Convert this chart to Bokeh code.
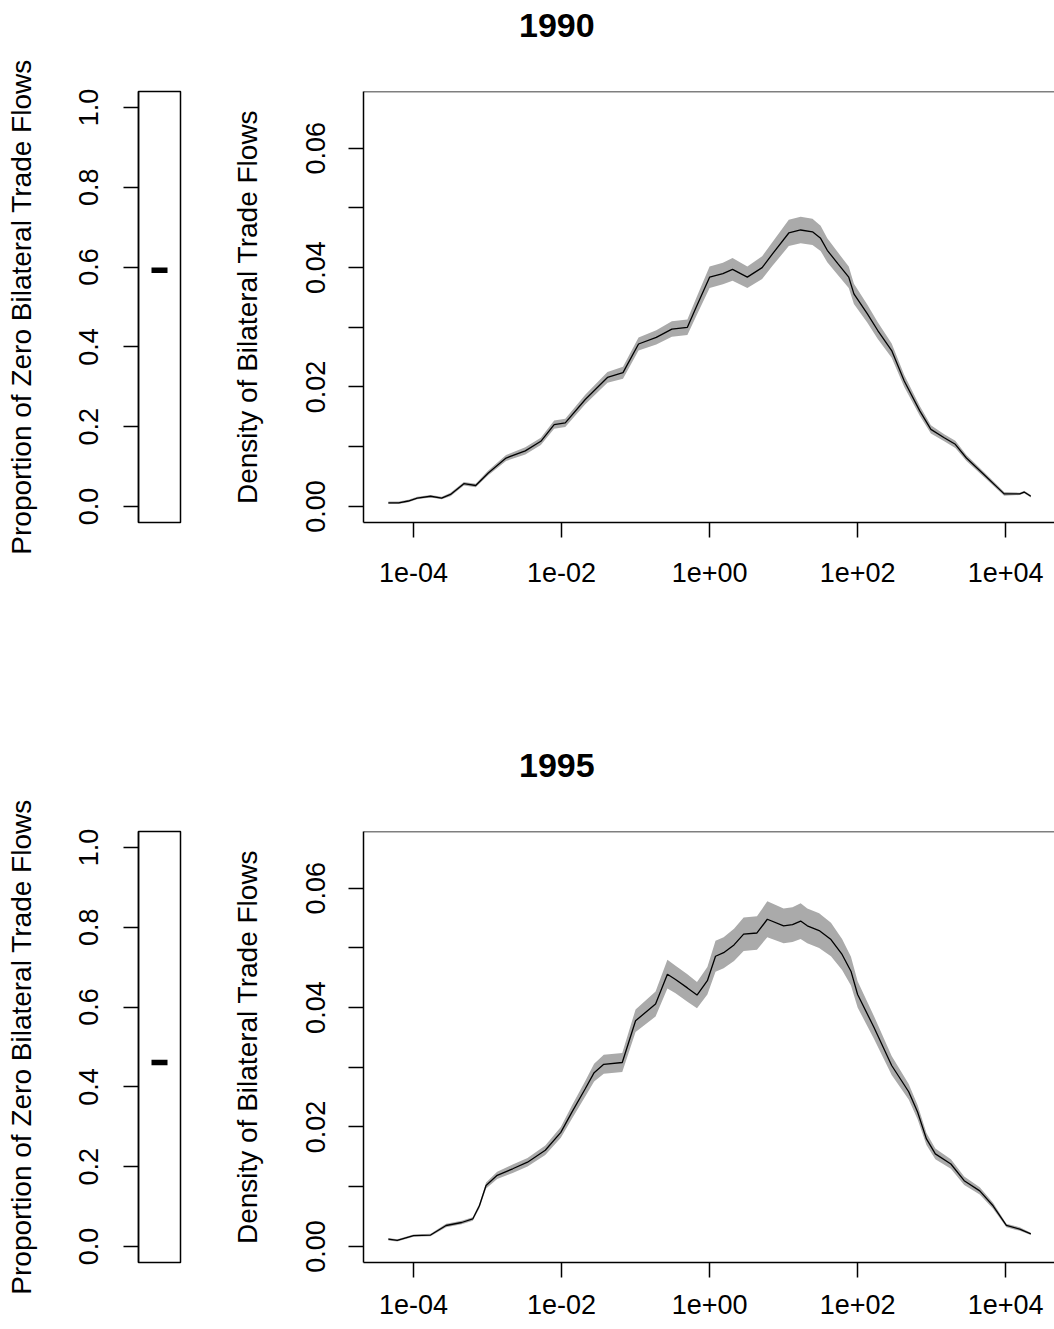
from bokeh.plotting import figure
from bokeh.layouts import column, row
from bokeh.models import Range1d, FixedTicker, Span, CustomJSTickFormatter, Div
from bokeh.embed import file_html
from bokeh.resources import INLINE

# ---------------- data ----------------
years = ["1990", "1995"]
zero_share = [0.592, 0.461]

x_tick_values = [1e-4, 1e-2, 1e0, 1e2, 1e4]
x_tick_labels = ["1e-04", "1e-02", "1e+00", "1e+02", "1e+04"]
dens_tick_values = [0.00, 0.01, 0.02, 0.03, 0.04, 0.05, 0.06]
dens_tick_labels = ["0.00", "", "0.02", "", "0.04", "", "0.06"]
prop_tick_values = [0.0, 0.2, 0.4, 0.6, 0.8, 1.0]
prop_tick_labels = ["0.0", "0.2", "0.4", "0.6", "0.8", "1.0"]

# log10 of trade flow, density, half-width of the grey band
log_flow_1990 = [-4.34, -4.20, -4.07, -3.95, -3.77, -3.62, -3.50, -3.32, -3.16, -2.99,
                 -2.75, -2.49, -2.28, -2.10, -1.95, -1.68, -1.38, -1.17, -0.96, -0.72,
                 -0.51, -0.30, -0.18, 0.00, 0.18, 0.31, 0.51, 0.71, 0.85, 1.07,
                 1.23, 1.39, 1.50, 1.59, 1.73, 1.88, 1.95, 2.13, 2.27, 2.46,
                 2.63, 2.84, 2.99, 3.17, 3.32, 3.47, 3.71, 3.98, 4.19, 4.25, 4.34]
density_1990 = [0.0006, 0.0006, 0.0009, 0.0014, 0.0017, 0.0014, 0.0020, 0.0038, 0.0035, 0.0056,
                0.0081, 0.0093, 0.0109, 0.0137, 0.0140, 0.0179, 0.0216, 0.0224, 0.0272, 0.0283,
                0.0297, 0.0300, 0.0334, 0.0384, 0.0390, 0.0397, 0.0384, 0.0400, 0.0423, 0.0458,
                0.0463, 0.0460, 0.0449, 0.0429, 0.0407, 0.0384, 0.0356, 0.0323, 0.0295, 0.0261,
                0.0210, 0.0160, 0.0129, 0.0115, 0.0104, 0.0081, 0.0053, 0.0021, 0.0021, 0.0024, 0.0017]
band_1990 = [0.0002, 0.0002, 0.0002, 0.0002, 0.0002, 0.0002, 0.0003, 0.0003, 0.0003, 0.0004,
             0.0005, 0.0006, 0.0006, 0.0007, 0.0007, 0.0008, 0.0009, 0.0010, 0.0011, 0.0012,
             0.0013, 0.0013, 0.0015, 0.0018, 0.0018, 0.0019, 0.0018, 0.0019, 0.0020, 0.0022,
             0.0022, 0.0022, 0.0021, 0.0020, 0.0019, 0.0018, 0.0017, 0.0015, 0.0014, 0.0012,
             0.0010, 0.0008, 0.0007, 0.0006, 0.0006, 0.0005, 0.0004, 0.0003, 0.0002, 0.0002, 0.0002]

log_flow_1995 = [-4.34, -4.22, -4.00, -3.77, -3.56, -3.35, -3.20, -3.11, -3.02, -2.87,
                 -2.66, -2.46, -2.22, -2.01, -1.86, -1.68, -1.56, -1.43, -1.18, -1.00,
                 -0.73, -0.57, -0.46, -0.30, -0.17, -0.03, 0.08, 0.19, 0.33, 0.46,
                 0.64, 0.78, 1.00, 1.12, 1.23, 1.32, 1.48, 1.64, 1.79, 1.91,
                 2.00, 2.22, 2.46, 2.69, 2.81, 2.93, 3.05, 3.26, 3.44, 3.65,
                 3.83, 4.01, 4.19, 4.34]
density_1995 = [0.0012, 0.0010, 0.0018, 0.0019, 0.0035, 0.0040, 0.0046, 0.0068, 0.0102, 0.0119,
                0.0130, 0.0141, 0.0161, 0.0191, 0.0225, 0.0264, 0.0291, 0.0305, 0.0308, 0.0378,
                0.0406, 0.0456, 0.0447, 0.0433, 0.0421, 0.0445, 0.0486, 0.0492, 0.0505, 0.0523,
                0.0525, 0.0548, 0.0537, 0.0539, 0.0545, 0.0537, 0.0529, 0.0514, 0.0489, 0.0461,
                0.0422, 0.0367, 0.0303, 0.0259, 0.0225, 0.0180, 0.0155, 0.0138, 0.0110, 0.0093,
                0.0068, 0.0035, 0.0029, 0.0021]
band_1995 = [0.0002, 0.0002, 0.0002, 0.0002, 0.0003, 0.0003, 0.0003, 0.0004, 0.0005, 0.0006,
             0.0007, 0.0007, 0.0008, 0.0009, 0.0011, 0.0013, 0.0015, 0.0016, 0.0016, 0.0019,
             0.0021, 0.0024, 0.0023, 0.0023, 0.0022, 0.0023, 0.0026, 0.0026, 0.0027, 0.0028,
             0.0028, 0.0030, 0.0029, 0.0029, 0.0030, 0.0029, 0.0029, 0.0028, 0.0026, 0.0024,
             0.0022, 0.0019, 0.0016, 0.0013, 0.0012, 0.0010, 0.0009, 0.0008, 0.0007, 0.0006,
             0.0005, 0.0003, 0.0003, 0.0002]

series = [(log_flow_1990, density_1990, band_1990), (log_flow_1995, density_1995, band_1995)]

# ---------------- style ----------------
FONT = "Liberation Sans"
FS = "27px"
FS_TITLE = "28px"
LW = 1.5
BAND = "#AAAAAA"

FMT_CODE = """
let best = 0, bd = Infinity;
for (let i = 0; i < vals.length; i++) {
  const d = islog ? Math.abs(Math.log10(vals[i]) - Math.log10(tick)) : Math.abs(vals[i] - tick);
  if (d < bd) { bd = d; best = i; }
}
return labs[best];
"""


def style_axis(ax, ticks, labels, islog=False, vertical=False, label_standoff=18, title_standoff=36):
    ax.ticker = FixedTicker(ticks=ticks, minor_ticks=[])
    ax.formatter = CustomJSTickFormatter(args=dict(vals=ticks, labs=labels, islog=islog), code=FMT_CODE)
    ax.major_tick_out = 15
    ax.major_tick_in = 0
    ax.minor_tick_line_color = None
    ax.axis_line_color = "black"
    ax.axis_line_width = LW
    ax.major_tick_line_color = "black"
    ax.major_tick_line_width = LW
    ax.major_label_text_font = FONT
    ax.major_label_text_font_size = FS
    ax.major_label_text_color = "black"
    ax.major_label_standoff = label_standoff
    ax.axis_label_text_font = FONT
    ax.axis_label_text_font_size = FS_TITLE
    ax.axis_label_text_font_style = "normal"
    ax.axis_label_text_color = "black"
    ax.axis_label_standoff = title_standoff
    if vertical:
        ax.major_label_orientation = "vertical"


FRAME_H = 431
TITLE_H = 50
blocks = []
for i, (yr, share, (lx, dens, hw)) in enumerate(zip(years, zero_share, series)):
    top = 91 - TITLE_H
    bottom = 218 if i == 0 else 64
    x_lab_standoff = 25 if i == 0 else 17

    title_div = Div(
        text=(f'<div style="position:absolute;left:519px;top:8px;'
              f'font-family:\'Liberation Sans\';font-size:34px;font-weight:bold;'
              f'line-height:34px;color:black;white-space:nowrap;">{yr}</div>'),
        width=1054, height=TITLE_H, margin=0)

    # --- proportion of zeros panel ---
    p1 = figure(frame_width=42, frame_height=FRAME_H,
                x_range=Range1d(0.5, 1.5), y_range=Range1d(-0.04, 1.04),
                output_backend="svg", toolbar_location=None,
                min_border_left=138, min_border_right=47,
                min_border_top=top, min_border_bottom=bottom)
    p1.xaxis.visible = False
    p1.xgrid.visible = False
    p1.ygrid.visible = False
    p1.outline_line_color = "black"
    p1.outline_line_width = LW
    p1.yaxis.axis_label = "Proportion of Zero Bilateral Trade Flows"
    style_axis(p1.yaxis[0], prop_tick_values, prop_tick_labels, vertical=True,
               label_standoff=25, title_standoff=40)
    p1.scatter(x=[1.0], y=[share], marker="dash", size=16, line_width=5.5,
               line_color="black")

    # --- density panel ---
    xs = [10 ** v for v in lx]
    lo = [d - h for d, h in zip(dens, hw)]
    hi = [d + h for d, h in zip(dens, hw)]
    p2 = figure(frame_width=691, frame_height=FRAME_H, x_axis_type="log",
                x_range=Range1d(10 ** -4.676, 10 ** 4.66),
                y_range=Range1d(-0.0027, 0.0695),
                output_backend="svg", toolbar_location=None,
                min_border_left=136, min_border_right=0,
                min_border_top=top, min_border_bottom=bottom)
    p2.xgrid.visible = False
    p2.ygrid.visible = False
    p2.outline_line_color = None
    p2.yaxis.axis_label = "Density of Bilateral Trade Flows"
    style_axis(p2.yaxis[0], dens_tick_values, dens_tick_labels, vertical=True,
               label_standoff=23, title_standoff=41)
    style_axis(p2.xaxis[0], x_tick_values, x_tick_labels, islog=True,
               label_standoff=x_lab_standoff)
    p2.add_layout(Span(location=p2.y_range.end, dimension="width",
                       line_color="black", line_width=LW))
    p2.varea(x=xs, y1=lo, y2=hi, fill_color=BAND, fill_alpha=1.0)
    p2.line(x=xs, y=dens, line_color="black", line_width=1.3)

    blocks.append(title_div)
    blocks.append(row(p1, p2, spacing=0))

layout = column(*blocks, spacing=0)
open("out.html", "w").write(file_html(layout, INLINE))
